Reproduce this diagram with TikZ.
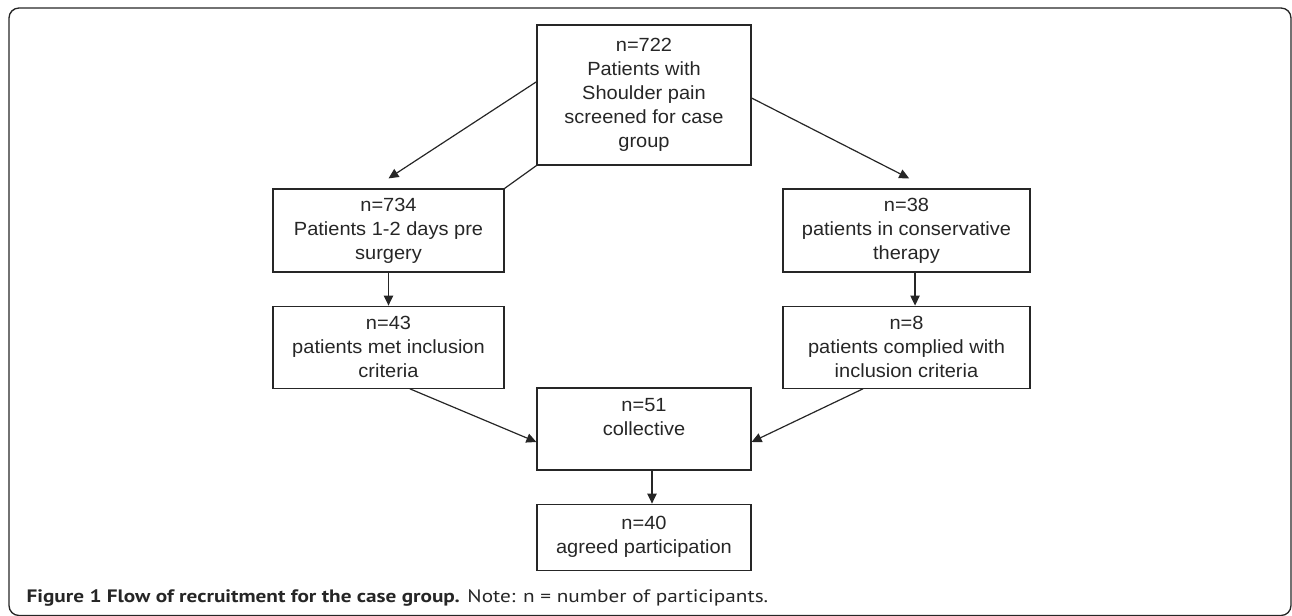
\documentclass[tikz,border=0pt]{standalone}
\usepackage{fontspec}
\setmainfont{Liberation Sans}[FakeStretch=1.05]
\newfontfamily\capfont{PT Sans}[FakeStretch=1.18]
\usetikzlibrary{arrows.meta, positioning}

\begin{document}
\begin{tikzpicture}[x=0.75pt, y=-0.75pt, line width=0.9pt, color=black!85,
	box/.style={draw, align=center, inner sep=0pt, font=\fontsize{14.3}{18}\selectfont},
	arr/.style={-{Triangle[length=7.5pt, width=7pt]}}]
	\useasboundingbox (0,0) rectangle (1292,615);
	\draw[rounded corners=7.5pt, line width=1pt] (9,8) rectangle (1291,615.5);

	\node at (644,95) [box, minimum width=160.5pt, minimum height=105pt] (screen) {n=722\\Patients with\\Shoulder pain\\screened for case\\group};
	\node at (388.5,230.5) [box, minimum width=173.25pt, minimum height=62.25pt] (pre) {n=734\\Patients 1-2 days pre\\surgery};
	\node [below=24.75pt of pre, box, minimum width=173.25pt, minimum height=61.5pt] (met) {n=43\\patients met inclusion\\criteria};
	\node at (906.5,230.5) [box, minimum width=185.25pt, minimum height=62.25pt] (cons) {n=38\\patients in conservative\\therapy};
	\node [below=24.75pt of cons, box, minimum width=185.25pt, minimum height=61.5pt] (compl) {n=8\\patients complied with\\inclusion criteria};
	\node at (644,429) [box, minimum width=160.5pt, minimum height=61.5pt] (coll) {n=51\\collective\\\mbox{}};
	\node [below=24.75pt of coll, box, minimum width=160.5pt, minimum height=49.5pt] (agreed) {n=40\\agreed participation};

	\draw[arr] (screen.173) -- ([yshift=7.5pt]pre.north);
	\draw (screen.south west) -- (pre.north east);
	\draw[arr] ([yshift=-2.25pt]screen.east) -- ([xshift=2pt, yshift=7.5pt]cons.north);
	\draw[arr] (pre) -- (met);
	\draw[arr] ([xshift=6.4pt]cons.south) -- ([xshift=6.4pt]compl.north);
	\draw[arr] ([xshift=16pt]met.south) -- ([yshift=-9.75pt]coll.west);
	\draw[arr] ([xshift=-32.6pt]compl.south) -- ([yshift=-9.75pt]coll.east);
	\draw[arr] ([xshift=6pt]coll.south) -- ([xshift=6pt]agreed.north);

	\node at (26,602) [anchor=base west, inner sep=0pt, font=\capfont\fontsize{13.5}{16}\selectfont] (caption) {\textbf{Figure 1 Flow of recruitment for the case group.} Note: n = number of participants.};
\end{tikzpicture}
\end{document}
